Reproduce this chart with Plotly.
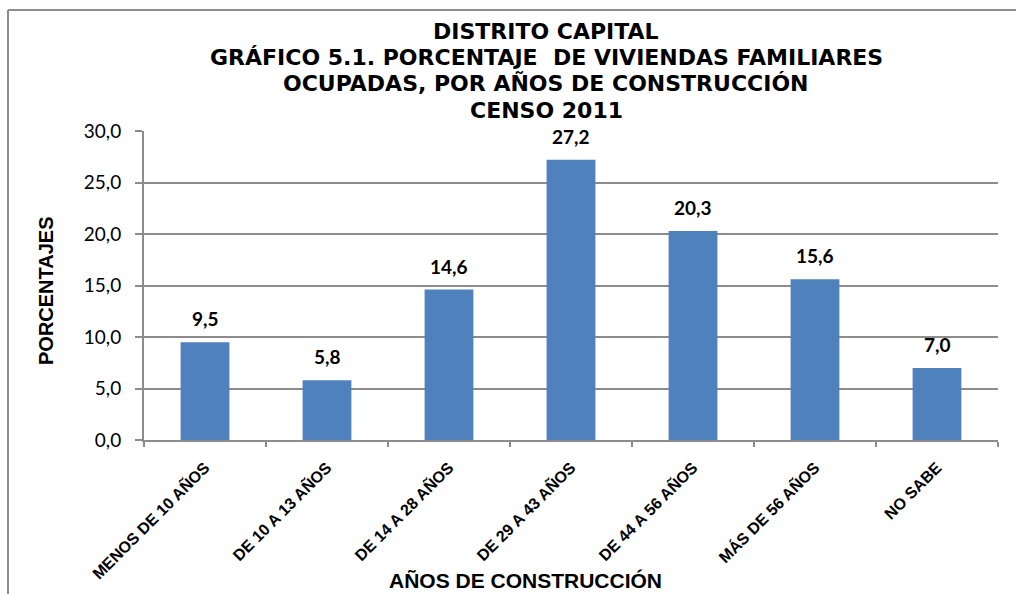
import plotly.graph_objects as go

categories = ["MENOS DE 10 AÑOS", "DE 10 A 13 AÑOS", "DE 14 A 28 AÑOS", "DE 29 A 43 AÑOS",
              "DE 44 A 56 AÑOS", "MÁS DE 56 AÑOS", "NO SABE"]
values = [9.5, 5.8, 14.6, 27.2, 20.3, 15.6, 7.0]
y_ticks = [0, 5, 10, 15, 20, 25, 30]

W, H = 1016, 594
L, R, T, B = 144, 18, 131, 154
pw, ph = W - L - R, H - T - B

def px(x):
    return (x - L) / pw

def py(y):
    return (H - B - y) / ph

fig = go.Figure()
fig.add_trace(go.Bar(
    x=categories, y=values,
    marker=dict(color="#4F81BD", line=dict(width=0)),
    cliponaxis=False, hoverinfo="skip",
))

for c, v in zip(categories, values):
    fig.add_annotation(x=c, y=v, xref="x", yref="y", text="<b>" + f"{v:.1f}".replace(".", ",") + "</b>",
                       showarrow=False, yanchor="bottom", yshift=10,
                       font=dict(family="Lato", size=19, color="#000000"))

title_lines = ["DISTRITO CAPITAL",
               "GRÁFICO 5.1. PORCENTAJE  DE VIVIENDAS FAMILIARES",
               "OCUPADAS, POR AÑOS DE CONSTRUCCIÓN",
               "CENSO 2011"]
for i, line in enumerate(title_lines):
    fig.add_annotation(text="<b>" + line + "</b>", xref="paper", yref="paper",
                       x=px(546), y=py(31 + 26.5 * i), xanchor="center", yanchor="middle",
                       showarrow=False,
                       font=dict(family="DejaVu Sans", size=22, color="#000000"))

fig.add_annotation(text="<b>AÑOS DE CONSTRUCCIÓN</b>", xref="paper", yref="paper",
                   x=px(525), y=py(580), xanchor="center", yanchor="middle", showarrow=False,
                   font=dict(family="Liberation Sans", size=21, color="#000000"))
fig.add_annotation(text="<b>PORCENTAJES</b>", xref="paper", yref="paper", textangle=-90,
                   x=px(46), y=py(291), xanchor="center", yanchor="middle", showarrow=False,
                   font=dict(family="Liberation Sans", size=20, color="#000000"))

gray = "#8C8C8C"
fig.add_shape(type="line", xref="paper", yref="paper", x0=px(8), x1=px(1016), y0=py(10), y1=py(10),
              line=dict(color=gray, width=2))
fig.add_shape(type="line", xref="paper", yref="paper", x0=px(8), x1=px(8), y0=py(10), y1=py(594),
              line=dict(color=gray, width=2))

fig.update_layout(
    width=W, height=H,
    margin=dict(l=L, r=R, t=T, b=B, autoexpand=False),
    paper_bgcolor="white", plot_bgcolor="white",
    separators=",.",
    bargap=0.6,
    showlegend=False,
    hovermode=False,
    xaxis=dict(
        tickangle=-45,
        tickfont=dict(family="Liberation Sans", size=16, color="#000000"),
        tickprefix="<b>", ticksuffix="</b>",
        showline=True, linecolor=gray, linewidth=2,
        ticks="outside", ticklen=5, tickcolor=gray, tickwidth=2,
        tickson="boundaries", automargin=False, ticklabelstandoff=10,
    ),
    yaxis=dict(
        range=[0, 30], tickvals=y_ticks, tickformat=".1f",
        tickfont=dict(family="Lato", size=19, color="#000000"),
        showgrid=True, gridcolor=gray, gridwidth=1.5,
        showline=True, linecolor=gray, linewidth=2,
        ticks="outside", ticklen=7, tickcolor=gray, tickwidth=2,
        zeroline=False, automargin=False, ticklabelstandoff=10,
    ),
)

fig.write_html("out.html", config={"displayModeBar": False},
               post_script="document.body.style.margin='0px';")
